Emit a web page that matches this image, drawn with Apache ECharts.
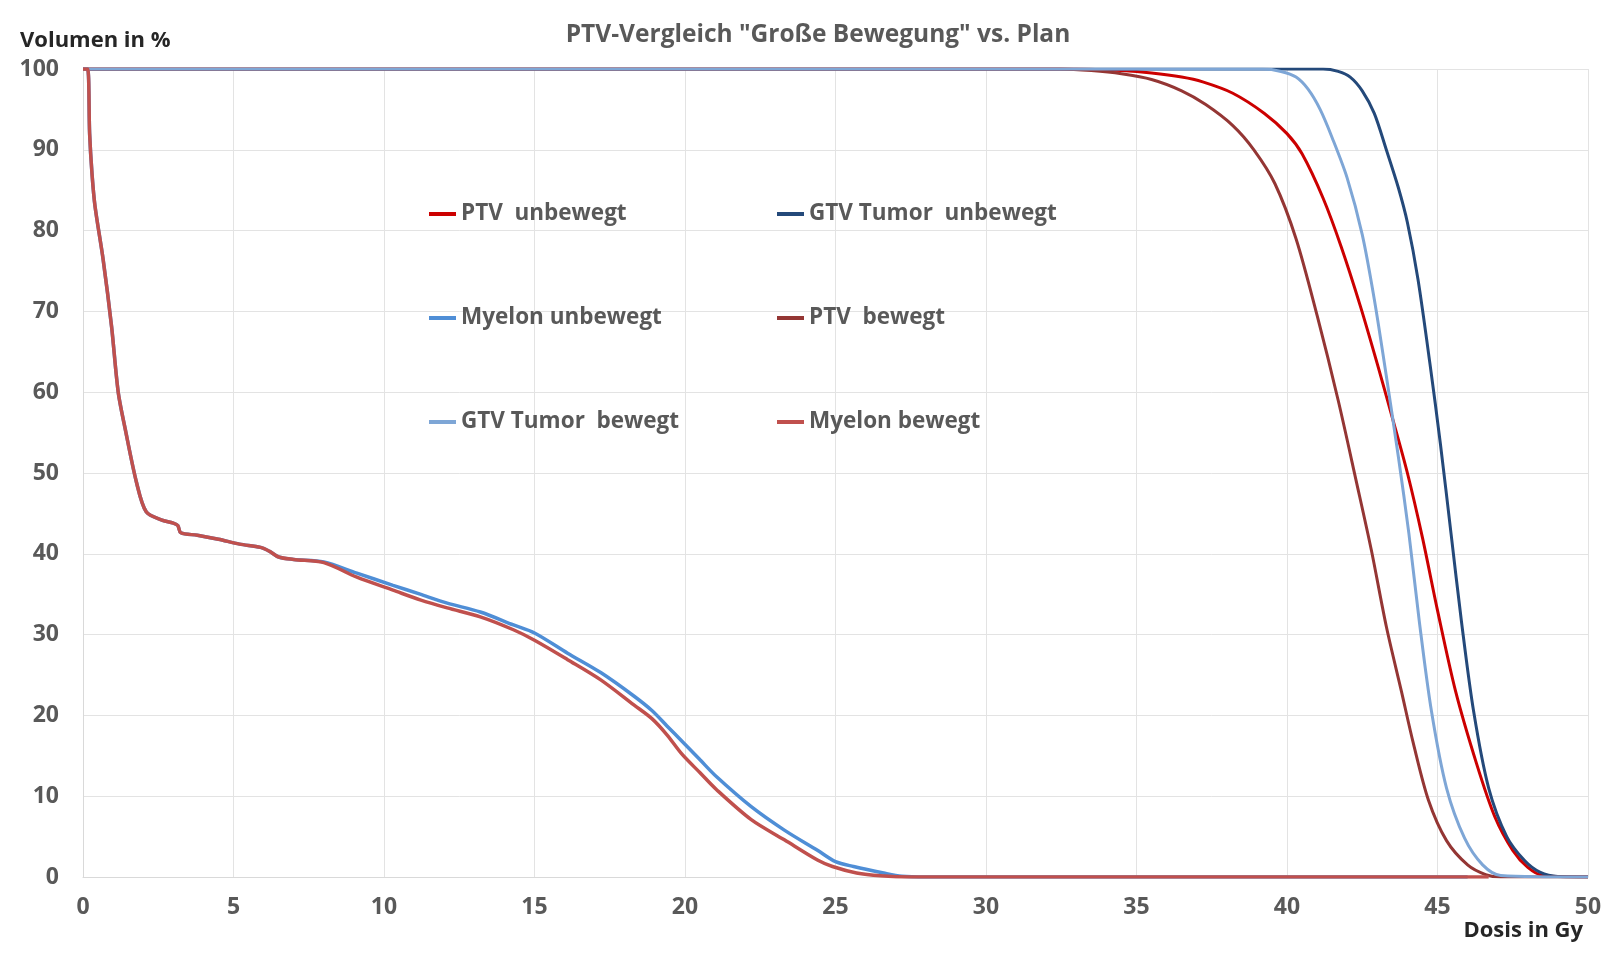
<!DOCTYPE html>
<html>
<head>
<meta charset="utf-8">
<script src="https://cdn.jsdelivr.net/npm/echarts@6/dist/echarts.min.js"></script>
<style>
html,body{margin:0;padding:0;background:#fff;}
#chart{width:1608px;height:961px;}
</style>
</head>
<body>
<div id="chart"></div>
<script>
// ---- chart texts ----
const titleText = 'PTV-Vergleich "Große Bewegung" vs. Plan';
const yAxisTitle = 'Volumen in %';
const xAxisTitle = 'Dosis in Gy';
const seriesNames = ['PTV  unbewegt', 'GTV Tumor  unbewegt', 'Myelon unbewegt', 'PTV  bewegt', 'GTV Tumor  bewegt', 'Myelon bewegt'];

// ---- series data (dose in Gy, volume in %) ----
const dosePTVunbewegt = [0, 33, 34.5, 35.5, 36.5, 37.2, 38.2, 39.25, 40.0, 40.5, 41.2, 41.8, 42.45, 43.0, 43.45, 44.0, 44.5, 45.0, 45.6, 46.3, 46.9, 47.5, 48.0, 48.5, 50];
const volPTVunbewegt  = [100, 100, 99.8, 99.5, 99, 98.4, 97, 94.5, 92, 89.5, 84, 78, 70.5, 63.5, 57.5, 50, 42, 33, 23, 14, 7.5, 3.3, 1.2, 0.2, 0];

const doseGTVunbewegt = [0, 41.2, 41.7, 42.1, 42.5, 42.9, 43.3, 43.7, 44.0, 44.35, 44.75, 45.1, 45.45, 45.8, 46.2, 46.7, 47.3, 47.9, 48.4, 49.0, 50];
const volGTVunbewegt  = [100, 100, 99.7, 99, 97.3, 94.5, 90, 85.3, 81, 74, 63.5, 53.5, 42.5, 31.5, 20.5, 11, 5, 2, 0.6, 0.05, 0];

const doseMyelonUnbewegt = [0, 0.15, 0.22, 0.3, 0.4, 0.67, 0.95, 1.17, 1.4, 1.78, 2.1, 2.6, 3.0, 3.15, 3.25, 3.8, 4.5, 5.2, 5.9, 6.2, 6.5, 7.0, 8.0, 9.1, 10.3, 11.2, 12.1, 13.2, 14.3, 15.0, 16.1, 17.2, 18.3, 18.9, 19.4, 19.9, 20.5, 21.05, 22.2, 23.3, 24.4, 25.0, 25.6, 26.6, 27.2, 28, 46];
const volMyelonUnbewegt  = [100, 100, 92, 87, 83, 76.4, 68.1, 60, 55.5, 48.8, 45.2, 44.2, 43.8, 43.5, 42.6, 42.3, 41.8, 41.2, 40.8, 40.3, 39.6, 39.3, 39.0, 37.6, 36.1, 35, 33.9, 32.8, 31.2, 30.2, 27.7, 25.3, 22.4, 20.6, 18.7, 16.8, 14.5, 12.4, 8.7, 5.8, 3.3, 1.9, 1.3, 0.5, 0.1, 0, 0];

const dosePTVbewegt = [0, 32.5, 33.5, 34.5, 35.5, 36.5, 37.3, 38.2, 38.9, 39.6, 40.3, 41.0, 41.7, 42.3, 42.8, 43.3, 43.8, 44.2, 44.7, 45.3, 46.0, 46.6, 47.1, 50];
const volPTVbewegt  = [100, 100, 99.8, 99.4, 98.7, 97.3, 95.6, 93, 90, 85.8, 79, 69.5, 59, 49, 40.5, 31, 23, 16.5, 9.5, 4.5, 1.5, 0.3, 0, 0];

const doseGTVbewegt = [0, 39.2, 39.8, 40.3, 40.7, 41.1, 41.5, 42.0, 42.5, 42.9, 43.3, 43.7, 44.05, 44.4, 44.8, 45.3, 45.9, 46.5, 47.1, 50];
const volGTVbewegt  = [100, 100, 99.7, 99, 97.5, 95, 91.5, 86.5, 79.5, 71.5, 62, 52, 42.5, 31.5, 20.5, 11, 4.8, 1.5, 0.2, 0];

const doseMyelonBewegt = [0, 0.15, 0.22, 0.3, 0.4, 0.67, 0.95, 1.17, 1.4, 1.78, 2.1, 2.6, 3.0, 3.15, 3.25, 3.8, 4.5, 5.2, 5.9, 6.2, 6.5, 7.0, 8.0, 9.1, 10.3, 11.2, 12.1, 13.2, 14.3, 15.0, 16.1, 17.2, 18.3, 18.9, 19.4, 19.9, 20.5, 21.05, 22.2, 23.3, 24.4, 24.9, 25.7, 26.5, 27.5, 46.7];
const volMyelonBewegt  = [100, 100, 92, 87, 83, 76.4, 68.1, 60, 55.5, 48.8, 45.2, 44.2, 43.8, 43.5, 42.6, 42.3, 41.8, 41.2, 40.8, 40.3, 39.6, 39.3, 38.9, 37.1, 35.5, 34.3, 33.3, 32.2, 30.6, 29.3, 26.9, 24.4, 21.3, 19.6, 17.6, 15.2, 12.9, 10.8, 7.1, 4.6, 2.1, 1.3, 0.5, 0.15, 0, 0];

const seriesColors = ['#CC0000', '#24497A', '#4F8ED6', '#943634', '#7EA6D6', '#C0504D'];
const seriesWidths = [3, 3, 3.5, 3, 3, 3.5];

// ---- build ----
function pairs(xs, ys) { return xs.map((x, i) => [x, ys[i]]); }
const seriesData = [
  pairs(dosePTVunbewegt, volPTVunbewegt),
  pairs(doseGTVunbewegt, volGTVunbewegt),
  pairs(doseMyelonUnbewegt, volMyelonUnbewegt),
  pairs(dosePTVbewegt, volPTVbewegt),
  pairs(doseGTVbewegt, volGTVbewegt),
  pairs(doseMyelonBewegt, volMyelonBewegt)
];

const FONT = "'Open Sans', 'Noto Sans', sans-serif";
const chart = echarts.init(document.getElementById('chart'), null, {renderer: 'canvas'});

const legendText = {color: '#595959', fontSize: 22.5, fontWeight: 'bold', fontFamily: FONT, lineHeight: 24};
const legendBase = {
  orient: 'vertical', top: 197, itemGap: 80, itemWidth: 27, itemHeight: 4,
  icon: 'rect', textStyle: legendText, selectedMode: false
};

chart.setOption({
  animation: false,
  backgroundColor: '#ffffff',
  title: {
    text: titleText, left: 813, top: 18, textAlign: 'center',
    textStyle: {color: '#595959', fontSize: 24.5, fontWeight: 'bold', fontFamily: FONT}
  },
  legend: [
    Object.assign({}, legendBase, {left: 424, data: [seriesNames[0], seriesNames[2], seriesNames[4]]}),
    Object.assign({}, legendBase, {left: 772, data: [seriesNames[1], seriesNames[3], seriesNames[5]]})
  ],
  grid: {left: 83, right: 20, top: 69, bottom: 84, containLabel: false},
  xAxis: {
    type: 'value', min: 0, max: 50, interval: 5,
    axisLine: {show: true, lineStyle: {color: '#d9d9d9', width: 1}},
    axisTick: {show: false},
    splitLine: {show: true, lineStyle: {color: '#e3e3e3', width: 1}},
    axisLabel: {color: '#595959', fontSize: 23, fontWeight: 'bold', fontFamily: FONT, margin: 19}
  },
  yAxis: {
    type: 'value', min: 0, max: 100, interval: 10,
    axisLine: {show: true, lineStyle: {color: '#d9d9d9', width: 1}},
    axisTick: {show: false},
    splitLine: {show: true, lineStyle: {color: '#e3e3e3', width: 1}},
    axisLabel: {color: '#595959', fontSize: 23, fontWeight: 'bold', fontFamily: FONT, margin: 24}
  },
  graphic: [
    {type: 'text', left: 20, top: 30, style: {text: yAxisTitle, fill: '#262626', font: "bold 22px " + FONT}},
    {type: 'text', right: 25, top: 920, style: {text: xAxisTitle, fill: '#262626', font: "bold 22px " + FONT}}
  ],
  series: seriesNames.map((n, i) => ({
    name: n, type: 'line', data: seriesData[i], showSymbol: false, symbol: 'none',
    smooth: 0.3, lineStyle: {color: seriesColors[i], width: seriesWidths[i]}, itemStyle: {color: seriesColors[i]},
    emphasis: {disabled: true}
  }))
});
</script>
</body>
</html>
